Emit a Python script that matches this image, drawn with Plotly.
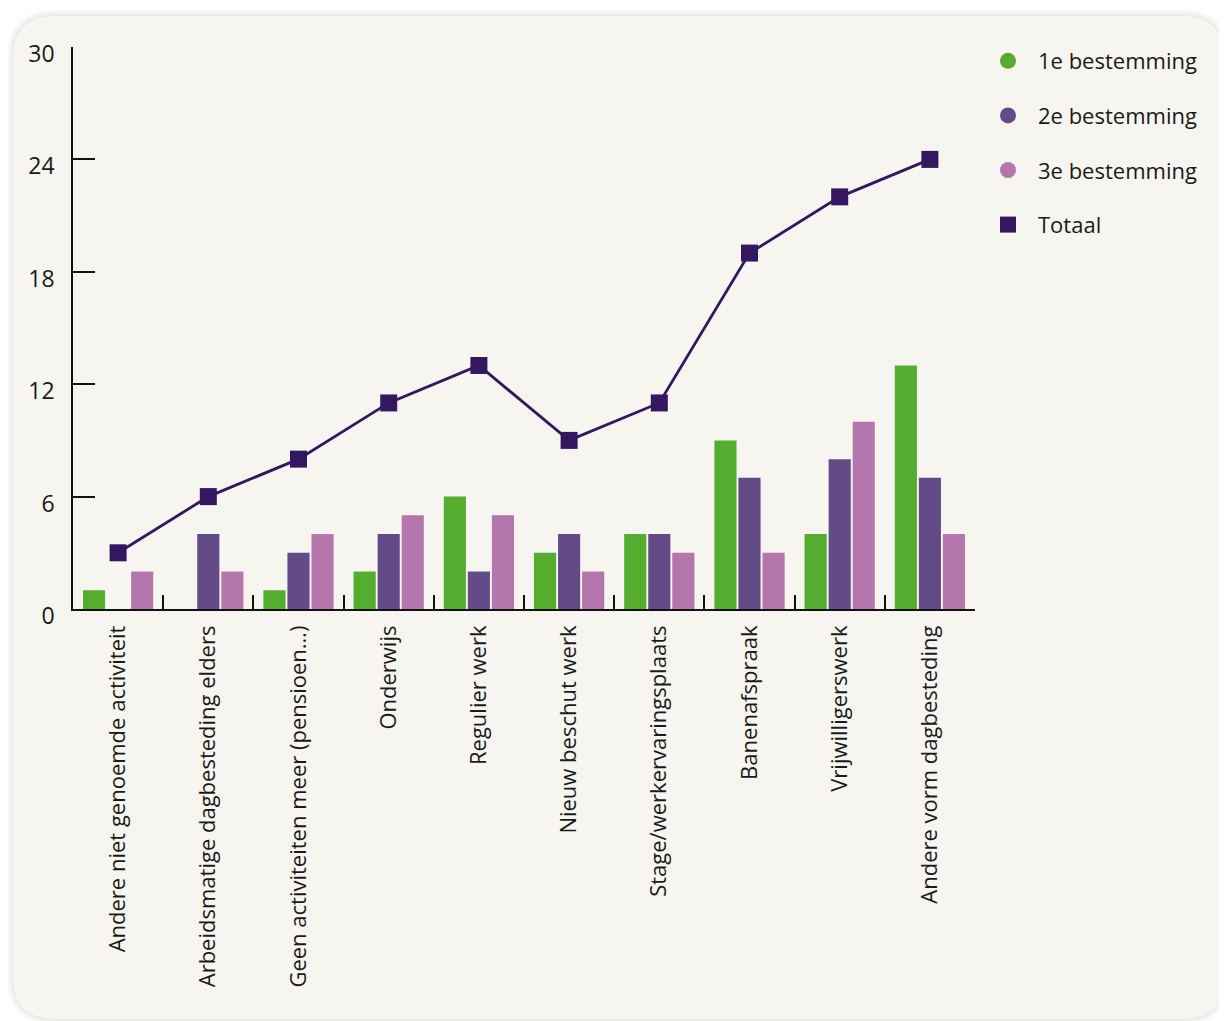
import plotly.graph_objects as go

categories = [
    "Andere niet genoemde activiteit",
    "Arbeidsmatige dagbesteding elders",
    "Geen activiteiten meer (pensioen…)",
    "Onderwijs",
    "Regulier werk",
    "Nieuw beschut werk",
    "Stage/werkervaringsplaats",
    "Banenafspraak",
    "Vrijwilligerswerk",
    "Andere vorm dagbesteding",
]
first_dest = [1, 0, 1, 2, 6, 3, 4, 9, 4, 13]
second_dest = [0, 4, 3, 4, 2, 4, 4, 7, 8, 7]
third_dest = [2, 2, 4, 5, 5, 2, 3, 3, 10, 4]
totaal = [3, 6, 8, 11, 13, 9, 11, 19, 22, 24]
y_ticks = [0, 6, 12, 18, 24, 30]

GREEN = "#54ad2e"
PURPLE = "#634b87"
PINK = "#b576ad"
DARK = "#33175f"
CARD = "#f6f5ef"
FONT = "Open Sans"
TXT = "#1a1a1a"

OFF = 8  # page body margin
W, H = 1227 - OFF, 1021 - OFF
# plot area in screen pixels: x 73..975, y 47..609
PX0, PX1, PY0, PY1 = 73, 975, 47, 609
ML, MT = PX0 - OFF, PY0 - OFF
MR, MB = W - (PX1 - OFF), H - (PY1 - OFF)
PW, PH = PX1 - PX0, PY1 - PY0


def to_paper(x, y):
    # screen pixel -> paper coords
    return (x - PX0) / PW, (PY1 - y) / PH


def rounded_path(x0, y0, x1, y1, r):
    pts = [
        ("M", [(x0 + r, y0)]),
        ("L", [(x1 - r, y0)]),
        ("Q", [(x1, y0), (x1, y0 + r)]),
        ("L", [(x1, y1 - r)]),
        ("Q", [(x1, y1), (x1 - r, y1)]),
        ("L", [(x0 + r, y1)]),
        ("Q", [(x0, y1), (x0, y1 - r)]),
        ("L", [(x0, y0 + r)]),
        ("Q", [(x0, y0), (x0 + r, y0)]),
    ]
    s = ""
    for cmd, ps in pts:
        s += cmd + " " + " ".join("%.5f,%.5f" % to_paper(px, py) for px, py in ps) + " "
    return s + "Z"


fig = go.Figure()

fig.add_trace(go.Bar(x=categories, y=first_dest, name="1e bestemming",
                     marker=dict(color=GREEN, line=dict(width=0)), showlegend=False))
fig.add_trace(go.Bar(x=categories, y=second_dest, name="2e bestemming",
                     marker=dict(color=PURPLE, line=dict(width=0)), showlegend=False))
fig.add_trace(go.Bar(x=categories, y=third_dest, name="3e bestemming",
                     marker=dict(color=PINK, line=dict(width=0)), showlegend=False))
fig.add_trace(go.Scatter(x=categories, y=totaal, name="Totaal", mode="lines+markers",
                         line=dict(color=DARK, width=2.8),
                         marker=dict(symbol="square", size=17, color=DARK),
                         showlegend=False, cliponaxis=False))

# legend entries (legend-only)
for nm, col, sym in [("1e bestemming", GREEN, "circle"),
                     ("2e bestemming", PURPLE, "circle"),
                     ("3e bestemming", PINK, "circle"),
                     ("Totaal", DARK, "square")]:
    fig.add_trace(go.Scatter(x=[None], y=[None], mode="markers", name=nm,
                             legendgroup=nm,
                             marker=dict(symbol=sym, size=22, color=col)))

shapes = []
# soft shadow layers
for i, op in [(7, 0.015), (5, 0.02), (3, 0.025), (1, 0.035)]:
    shapes.append(dict(type="path", xref="paper", yref="paper", layer="below",
                       path=rounded_path(13 - i, 16 - i, 1224 + i, 1019 + i, 42 + i),
                       fillcolor="rgba(0,0,0,%s)" % op, line=dict(width=0)))
shapes.append(dict(type="path", xref="paper", yref="paper", layer="below",
                   path=rounded_path(13, 16, 1224, 1019, 42),
                   fillcolor=CARD, line=dict(width=0)))

lx, ly = to_paper(978, 40)

fig.update_layout(
    width=W, height=H,
    margin=dict(l=ML, r=MR, t=MT, b=MB, pad=0),
    paper_bgcolor="white",
    plot_bgcolor="rgba(0,0,0,0)",
    font=dict(family=FONT, color=TXT, size=22),
    barmode="group",
    bargap=0.2,
    bargroupgap=0.08,
    shapes=shapes,
    showlegend=True,
    legend=dict(x=lx, y=ly, xanchor="left", yanchor="top",
                font=dict(family=FONT, size=22, color=TXT),
                bgcolor="rgba(0,0,0,0)", tracegroupgap=23,
                itemsizing="trace", itemwidth=50),
    xaxis=dict(
        type="category",
        range=[-0.5, len(categories) - 0.5],
        showgrid=False,
        showline=True, linecolor="#111111", linewidth=1.5,
        ticks="inside", tickson="boundaries", ticklen=14,
        tickcolor="#111111", tickwidth=1.5,
        tickangle=-90,
        tickfont=dict(family=FONT, size=22, color=TXT),
        ticklabelstandoff=6,
        zeroline=False,
    ),
    yaxis=dict(
        range=[0, 30],
        tickvals=y_ticks,
        showgrid=False,
        showline=True, linecolor="#111111", linewidth=1.5,
        ticks="inside", ticklen=22, tickcolor="#111111", tickwidth=1.5,
        tickfont=dict(family=FONT, size=23, color=TXT),
        ticklabelshift=7,
        ticklabelstandoff=12,
        zeroline=False,
    ),
)

fig.write_html("out.html")
